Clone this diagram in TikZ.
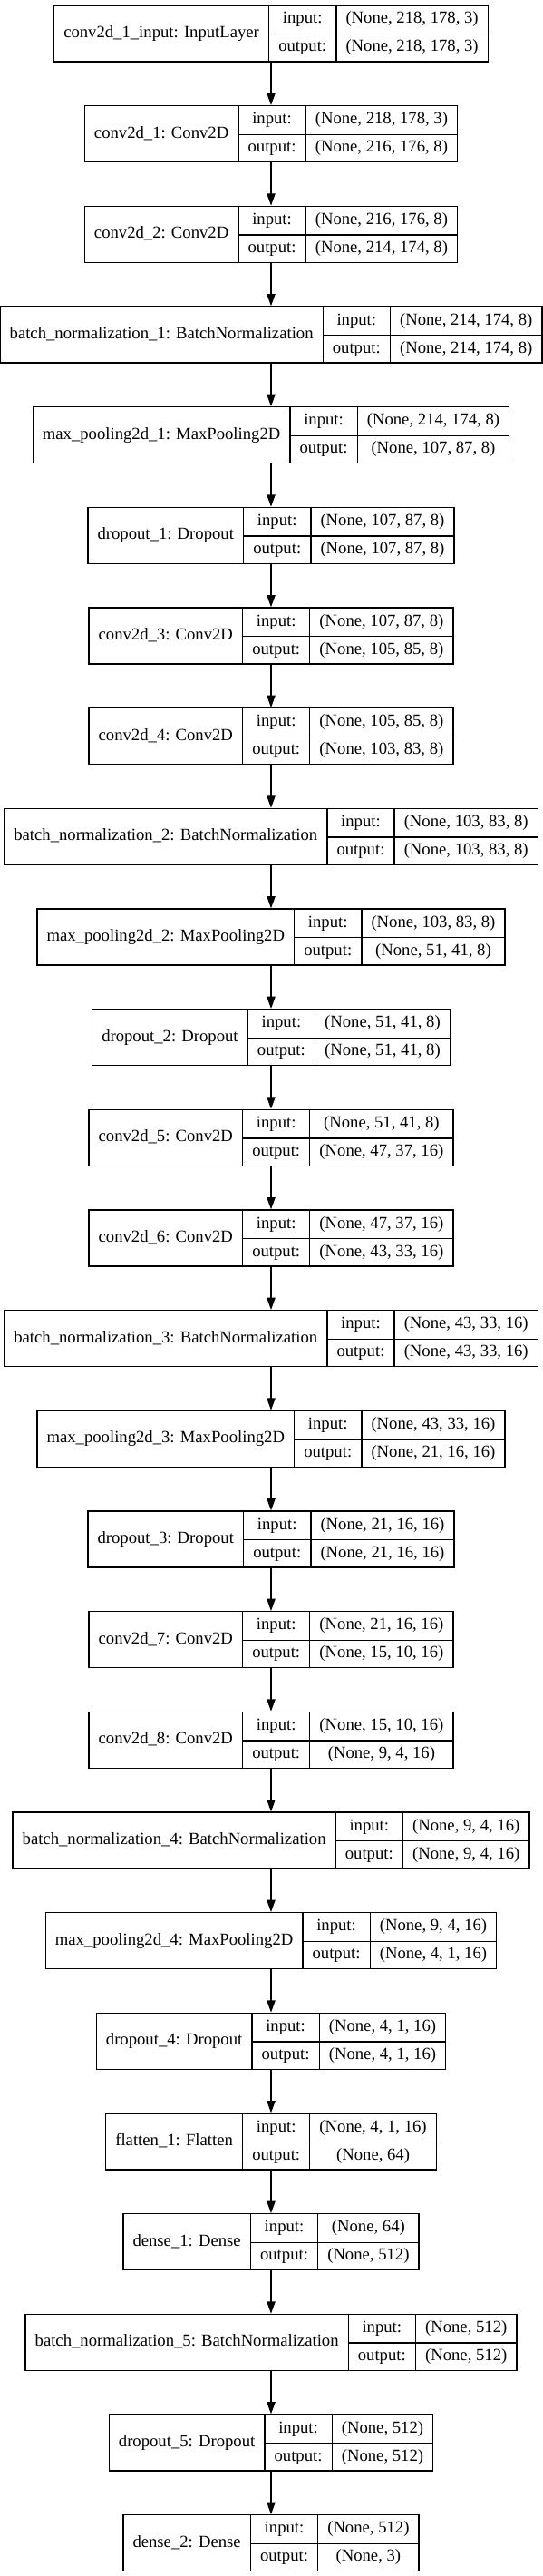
\documentclass[tikz,border=0pt]{standalone}
\usepackage{fontspec}
\setmainfont{Liberation Serif}
\usepackage{tikz}
\usetikzlibrary{arrows.meta, positioning}

\setlength{\arrayrulewidth}{1pt}
\setlength{\tabcolsep}{8pt}
\newcommand{\rowstrut}{\rule[-8.25pt]{0pt}{23.25pt}}
\newcommand{\layerrec}[3]{%
  \begin{tabular}{c|c|c}
    \raisebox{-11.55pt}[0pt][0pt]{#1} & \rowstrut input: & #2\\ \cline{2-3}
    & \rowstrut output: & #3
  \end{tabular}}
\tikzset{layer/.style = {draw, line width = 1pt, inner sep = 0pt, font = \fontsize{14pt}{17pt}\selectfont}}

\begin{document}
\begin{tikzpicture}[->, > = {Triangle[length = 10pt, width = 7pt]}, node distance = 83pt, line width = 1pt]
    \useasboundingbox (-224.25pt, 27.75pt) rectangle (225pt, -2102.25pt);
    \node[layer]	(0)					{\layerrec{conv2d\_1\_input: InputLayer}{(None, 218, 178, 3)}{(None, 218, 178, 3)}};
    \node[layer]	(1)	[below of=0]	{\layerrec{conv2d\_1: Conv2D}{(None, 218, 178, 3)}{(None, 216, 176, 8)}};
    \node[layer]	(2)	[below of=1]	{\layerrec{conv2d\_2: Conv2D}{(None, 216, 176, 8)}{(None, 214, 174, 8)}};
    \node[layer]	(3)	[below of=2]	{\layerrec{batch\_normalization\_1: BatchNormalization}{(None, 214, 174, 8)}{(None, 214, 174, 8)}};
    \node[layer]	(4)	[below of=3]	{\layerrec{max\_pooling2d\_1: MaxPooling2D}{(None, 214, 174, 8)}{(None, 107, 87, 8)}};
    \node[layer]	(5)	[below of=4]	{\layerrec{dropout\_1: Dropout}{(None, 107, 87, 8)}{(None, 107, 87, 8)}};
    \node[layer]	(6)	[below of=5]	{\layerrec{conv2d\_3: Conv2D}{(None, 107, 87, 8)}{(None, 105, 85, 8)}};
    \node[layer]	(7)	[below of=6]	{\layerrec{conv2d\_4: Conv2D}{(None, 105, 85, 8)}{(None, 103, 83, 8)}};
    \node[layer]	(8)	[below of=7]	{\layerrec{batch\_normalization\_2: BatchNormalization}{(None, 103, 83, 8)}{(None, 103, 83, 8)}};
    \node[layer]	(9)	[below of=8]	{\layerrec{max\_pooling2d\_2: MaxPooling2D}{(None, 103, 83, 8)}{(None, 51, 41, 8)}};
    \node[layer]	(10)	[below of=9]	{\layerrec{dropout\_2: Dropout}{(None, 51, 41, 8)}{(None, 51, 41, 8)}};
    \node[layer]	(11)	[below of=10]	{\layerrec{conv2d\_5: Conv2D}{(None, 51, 41, 8)}{(None, 47, 37, 16)}};
    \node[layer]	(12)	[below of=11]	{\layerrec{conv2d\_6: Conv2D}{(None, 47, 37, 16)}{(None, 43, 33, 16)}};
    \node[layer]	(13)	[below of=12]	{\layerrec{batch\_normalization\_3: BatchNormalization}{(None, 43, 33, 16)}{(None, 43, 33, 16)}};
    \node[layer]	(14)	[below of=13]	{\layerrec{max\_pooling2d\_3: MaxPooling2D}{(None, 43, 33, 16)}{(None, 21, 16, 16)}};
    \node[layer]	(15)	[below of=14]	{\layerrec{dropout\_3: Dropout}{(None, 21, 16, 16)}{(None, 21, 16, 16)}};
    \node[layer]	(16)	[below of=15]	{\layerrec{conv2d\_7: Conv2D}{(None, 21, 16, 16)}{(None, 15, 10, 16)}};
    \node[layer]	(17)	[below of=16]	{\layerrec{conv2d\_8: Conv2D}{(None, 15, 10, 16)}{(None, 9, 4, 16)}};
    \node[layer]	(18)	[below of=17]	{\layerrec{batch\_normalization\_4: BatchNormalization}{(None, 9, 4, 16)}{(None, 9, 4, 16)}};
    \node[layer]	(19)	[below of=18]	{\layerrec{max\_pooling2d\_4: MaxPooling2D}{(None, 9, 4, 16)}{(None, 4, 1, 16)}};
    \node[layer]	(20)	[below of=19]	{\layerrec{dropout\_4: Dropout}{(None, 4, 1, 16)}{(None, 4, 1, 16)}};
    \node[layer]	(21)	[below of=20]	{\layerrec{flatten\_1: Flatten}{(None, 4, 1, 16)}{(None, 64)}};
    \node[layer]	(22)	[below of=21]	{\layerrec{dense\_1: Dense}{(None, 64)}{(None, 512)}};
    \node[layer]	(23)	[below of=22]	{\layerrec{batch\_normalization\_5: BatchNormalization}{(None, 512)}{(None, 512)}};
    \node[layer]	(24)	[below of=23]	{\layerrec{dropout\_5: Dropout}{(None, 512)}{(None, 512)}};
    \node[layer]	(25)	[below of=24]	{\layerrec{dense\_2: Dense}{(None, 512)}{(None, 3)}};
    \path	(0)	edge	(1);
    \path	(1)	edge	(2);
    \path	(2)	edge	(3);
    \path	(3)	edge	(4);
    \path	(4)	edge	(5);
    \path	(5)	edge	(6);
    \path	(6)	edge	(7);
    \path	(7)	edge	(8);
    \path	(8)	edge	(9);
    \path	(9)	edge	(10);
    \path	(10)	edge	(11);
    \path	(11)	edge	(12);
    \path	(12)	edge	(13);
    \path	(13)	edge	(14);
    \path	(14)	edge	(15);
    \path	(15)	edge	(16);
    \path	(16)	edge	(17);
    \path	(17)	edge	(18);
    \path	(18)	edge	(19);
    \path	(19)	edge	(20);
    \path	(20)	edge	(21);
    \path	(21)	edge	(22);
    \path	(22)	edge	(23);
    \path	(23)	edge	(24);
    \path	(24)	edge	(25);
\end{tikzpicture}
\end{document}
